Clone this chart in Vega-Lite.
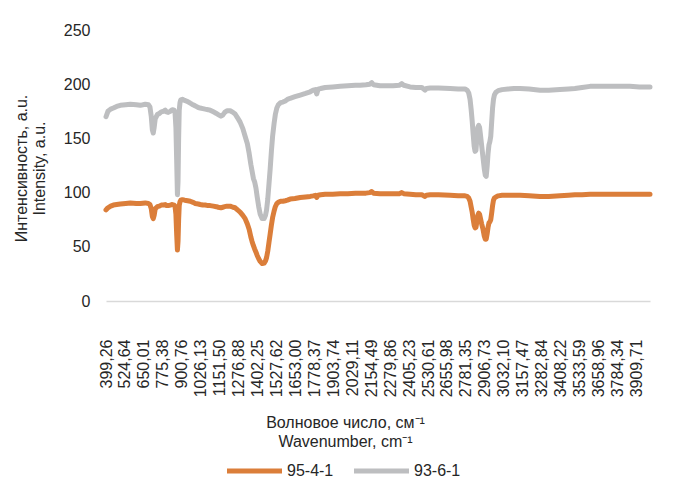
{
  "$schema": "https://vega.github.io/schema/vega-lite/v6.json",
  "width": 544,
  "height": 271,
  "autosize": "none",
  "padding": {"left": 106, "top": 30, "right": 24, "bottom": 191},
  "background": "white",
  "config": {"font": "Liberation Sans", "view": {"stroke": null}},
  "data": {
    "values": [
      {"wavenumber": 399.3, "series": "93-6-1", "intensity": 170},
      {"wavenumber": 412, "series": "93-6-1", "intensity": 175},
      {"wavenumber": 430, "series": "93-6-1", "intensity": 177},
      {"wavenumber": 448, "series": "93-6-1", "intensity": 178},
      {"wavenumber": 470, "series": "93-6-1", "intensity": 179.5},
      {"wavenumber": 494, "series": "93-6-1", "intensity": 180.5},
      {"wavenumber": 530, "series": "93-6-1", "intensity": 181},
      {"wavenumber": 560, "series": "93-6-1", "intensity": 181.5},
      {"wavenumber": 600, "series": "93-6-1", "intensity": 181},
      {"wavenumber": 626, "series": "93-6-1", "intensity": 180.5},
      {"wavenumber": 659, "series": "93-6-1", "intensity": 181.5},
      {"wavenumber": 680, "series": "93-6-1", "intensity": 181},
      {"wavenumber": 690, "series": "93-6-1", "intensity": 179},
      {"wavenumber": 699, "series": "93-6-1", "intensity": 170},
      {"wavenumber": 706, "series": "93-6-1", "intensity": 158},
      {"wavenumber": 712, "series": "93-6-1", "intensity": 155},
      {"wavenumber": 718, "series": "93-6-1", "intensity": 160},
      {"wavenumber": 725, "series": "93-6-1", "intensity": 168},
      {"wavenumber": 739, "series": "93-6-1", "intensity": 172},
      {"wavenumber": 752, "series": "93-6-1", "intensity": 173},
      {"wavenumber": 765, "series": "93-6-1", "intensity": 174.5},
      {"wavenumber": 780, "series": "93-6-1", "intensity": 175},
      {"wavenumber": 791, "series": "93-6-1", "intensity": 176},
      {"wavenumber": 800, "series": "93-6-1", "intensity": 174.5},
      {"wavenumber": 811, "series": "93-6-1", "intensity": 174},
      {"wavenumber": 825, "series": "93-6-1", "intensity": 175},
      {"wavenumber": 838, "series": "93-6-1", "intensity": 176.5},
      {"wavenumber": 850, "series": "93-6-1", "intensity": 176},
      {"wavenumber": 856, "series": "93-6-1", "intensity": 174},
      {"wavenumber": 862, "series": "93-6-1", "intensity": 160},
      {"wavenumber": 867, "series": "93-6-1", "intensity": 130},
      {"wavenumber": 872, "series": "93-6-1", "intensity": 98},
      {"wavenumber": 876, "series": "93-6-1", "intensity": 110},
      {"wavenumber": 880, "series": "93-6-1", "intensity": 150},
      {"wavenumber": 884, "series": "93-6-1", "intensity": 176},
      {"wavenumber": 889, "series": "93-6-1", "intensity": 183},
      {"wavenumber": 894, "series": "93-6-1", "intensity": 185.5},
      {"wavenumber": 905, "series": "93-6-1", "intensity": 186},
      {"wavenumber": 920, "series": "93-6-1", "intensity": 185},
      {"wavenumber": 940, "series": "93-6-1", "intensity": 184},
      {"wavenumber": 957, "series": "93-6-1", "intensity": 182.5},
      {"wavenumber": 975, "series": "93-6-1", "intensity": 181},
      {"wavenumber": 990, "series": "93-6-1", "intensity": 180},
      {"wavenumber": 1010, "series": "93-6-1", "intensity": 178.5},
      {"wavenumber": 1023, "series": "93-6-1", "intensity": 178},
      {"wavenumber": 1040, "series": "93-6-1", "intensity": 177.5},
      {"wavenumber": 1056, "series": "93-6-1", "intensity": 177},
      {"wavenumber": 1075, "series": "93-6-1", "intensity": 176.5},
      {"wavenumber": 1089, "series": "93-6-1", "intensity": 176},
      {"wavenumber": 1110, "series": "93-6-1", "intensity": 174.5},
      {"wavenumber": 1130, "series": "93-6-1", "intensity": 173},
      {"wavenumber": 1142, "series": "93-6-1", "intensity": 172},
      {"wavenumber": 1160, "series": "93-6-1", "intensity": 170.5},
      {"wavenumber": 1172, "series": "93-6-1", "intensity": 171.5},
      {"wavenumber": 1185, "series": "93-6-1", "intensity": 174},
      {"wavenumber": 1200, "series": "93-6-1", "intensity": 175.5},
      {"wavenumber": 1221, "series": "93-6-1", "intensity": 175.5},
      {"wavenumber": 1240, "series": "93-6-1", "intensity": 174},
      {"wavenumber": 1254, "series": "93-6-1", "intensity": 172.5},
      {"wavenumber": 1270, "series": "93-6-1", "intensity": 169},
      {"wavenumber": 1287, "series": "93-6-1", "intensity": 165},
      {"wavenumber": 1305, "series": "93-6-1", "intensity": 159},
      {"wavenumber": 1320, "series": "93-6-1", "intensity": 152},
      {"wavenumber": 1335, "series": "93-6-1", "intensity": 145},
      {"wavenumber": 1347, "series": "93-6-1", "intensity": 136},
      {"wavenumber": 1358, "series": "93-6-1", "intensity": 126},
      {"wavenumber": 1366, "series": "93-6-1", "intensity": 120},
      {"wavenumber": 1375, "series": "93-6-1", "intensity": 113},
      {"wavenumber": 1383, "series": "93-6-1", "intensity": 110},
      {"wavenumber": 1392, "series": "93-6-1", "intensity": 104},
      {"wavenumber": 1400, "series": "93-6-1", "intensity": 96},
      {"wavenumber": 1410, "series": "93-6-1", "intensity": 87},
      {"wavenumber": 1420, "series": "93-6-1", "intensity": 80},
      {"wavenumber": 1433, "series": "93-6-1", "intensity": 76},
      {"wavenumber": 1446, "series": "93-6-1", "intensity": 76},
      {"wavenumber": 1455, "series": "93-6-1", "intensity": 79},
      {"wavenumber": 1462, "series": "93-6-1", "intensity": 84},
      {"wavenumber": 1470, "series": "93-6-1", "intensity": 94},
      {"wavenumber": 1478, "series": "93-6-1", "intensity": 108},
      {"wavenumber": 1486, "series": "93-6-1", "intensity": 122},
      {"wavenumber": 1494, "series": "93-6-1", "intensity": 138},
      {"wavenumber": 1502, "series": "93-6-1", "intensity": 152},
      {"wavenumber": 1512, "series": "93-6-1", "intensity": 164},
      {"wavenumber": 1520, "series": "93-6-1", "intensity": 172},
      {"wavenumber": 1530, "series": "93-6-1", "intensity": 178},
      {"wavenumber": 1540, "series": "93-6-1", "intensity": 181},
      {"wavenumber": 1555, "series": "93-6-1", "intensity": 183},
      {"wavenumber": 1570, "series": "93-6-1", "intensity": 183.5},
      {"wavenumber": 1586, "series": "93-6-1", "intensity": 184.5},
      {"wavenumber": 1600, "series": "93-6-1", "intensity": 186},
      {"wavenumber": 1618, "series": "93-6-1", "intensity": 187},
      {"wavenumber": 1650, "series": "93-6-1", "intensity": 188.5},
      {"wavenumber": 1685, "series": "93-6-1", "intensity": 190},
      {"wavenumber": 1720, "series": "93-6-1", "intensity": 191.5},
      {"wavenumber": 1751, "series": "93-6-1", "intensity": 193},
      {"wavenumber": 1770, "series": "93-6-1", "intensity": 194.5},
      {"wavenumber": 1785, "series": "93-6-1", "intensity": 195},
      {"wavenumber": 1794, "series": "93-6-1", "intensity": 191},
      {"wavenumber": 1803, "series": "93-6-1", "intensity": 195.5},
      {"wavenumber": 1820, "series": "93-6-1", "intensity": 196},
      {"wavenumber": 1850, "series": "93-6-1", "intensity": 197},
      {"wavenumber": 1900, "series": "93-6-1", "intensity": 197.5},
      {"wavenumber": 1949, "series": "93-6-1", "intensity": 198},
      {"wavenumber": 2000, "series": "93-6-1", "intensity": 198.5},
      {"wavenumber": 2050, "series": "93-6-1", "intensity": 199},
      {"wavenumber": 2081, "series": "93-6-1", "intensity": 199},
      {"wavenumber": 2120, "series": "93-6-1", "intensity": 199.5},
      {"wavenumber": 2145, "series": "93-6-1", "intensity": 200},
      {"wavenumber": 2158, "series": "93-6-1", "intensity": 201.5},
      {"wavenumber": 2170, "series": "93-6-1", "intensity": 199.5},
      {"wavenumber": 2213, "series": "93-6-1", "intensity": 198.5},
      {"wavenumber": 2260, "series": "93-6-1", "intensity": 198.5},
      {"wavenumber": 2300, "series": "93-6-1", "intensity": 198.5},
      {"wavenumber": 2340, "series": "93-6-1", "intensity": 199},
      {"wavenumber": 2357, "series": "93-6-1", "intensity": 200.5},
      {"wavenumber": 2370, "series": "93-6-1", "intensity": 199},
      {"wavenumber": 2412, "series": "93-6-1", "intensity": 197.5},
      {"wavenumber": 2450, "series": "93-6-1", "intensity": 197},
      {"wavenumber": 2490, "series": "93-6-1", "intensity": 197},
      {"wavenumber": 2503, "series": "93-6-1", "intensity": 195.5},
      {"wavenumber": 2511, "series": "93-6-1", "intensity": 194.5},
      {"wavenumber": 2520, "series": "93-6-1", "intensity": 196},
      {"wavenumber": 2545, "series": "93-6-1", "intensity": 196.5},
      {"wavenumber": 2600, "series": "93-6-1", "intensity": 196.5},
      {"wavenumber": 2677, "series": "93-6-1", "intensity": 196},
      {"wavenumber": 2730, "series": "93-6-1", "intensity": 195.5},
      {"wavenumber": 2776, "series": "93-6-1", "intensity": 195.5},
      {"wavenumber": 2790, "series": "93-6-1", "intensity": 194.5},
      {"wavenumber": 2800, "series": "93-6-1", "intensity": 192},
      {"wavenumber": 2809, "series": "93-6-1", "intensity": 186},
      {"wavenumber": 2816, "series": "93-6-1", "intensity": 177},
      {"wavenumber": 2823, "series": "93-6-1", "intensity": 166},
      {"wavenumber": 2830, "series": "93-6-1", "intensity": 153},
      {"wavenumber": 2836, "series": "93-6-1", "intensity": 143},
      {"wavenumber": 2842, "series": "93-6-1", "intensity": 138},
      {"wavenumber": 2848, "series": "93-6-1", "intensity": 139},
      {"wavenumber": 2854, "series": "93-6-1", "intensity": 150},
      {"wavenumber": 2860, "series": "93-6-1", "intensity": 160},
      {"wavenumber": 2866, "series": "93-6-1", "intensity": 162},
      {"wavenumber": 2872, "series": "93-6-1", "intensity": 160},
      {"wavenumber": 2878, "series": "93-6-1", "intensity": 153},
      {"wavenumber": 2886, "series": "93-6-1", "intensity": 143},
      {"wavenumber": 2895, "series": "93-6-1", "intensity": 132},
      {"wavenumber": 2903, "series": "93-6-1", "intensity": 122},
      {"wavenumber": 2910, "series": "93-6-1", "intensity": 116},
      {"wavenumber": 2916, "series": "93-6-1", "intensity": 115},
      {"wavenumber": 2922, "series": "93-6-1", "intensity": 124},
      {"wavenumber": 2928, "series": "93-6-1", "intensity": 136},
      {"wavenumber": 2934, "series": "93-6-1", "intensity": 144},
      {"wavenumber": 2940, "series": "93-6-1", "intensity": 147},
      {"wavenumber": 2946, "series": "93-6-1", "intensity": 152},
      {"wavenumber": 2952, "series": "93-6-1", "intensity": 165},
      {"wavenumber": 2958, "series": "93-6-1", "intensity": 178},
      {"wavenumber": 2964, "series": "93-6-1", "intensity": 186},
      {"wavenumber": 2970, "series": "93-6-1", "intensity": 190},
      {"wavenumber": 2980, "series": "93-6-1", "intensity": 192.5},
      {"wavenumber": 2995, "series": "93-6-1", "intensity": 194},
      {"wavenumber": 3021, "series": "93-6-1", "intensity": 195},
      {"wavenumber": 3060, "series": "93-6-1", "intensity": 195.5},
      {"wavenumber": 3100, "series": "93-6-1", "intensity": 196},
      {"wavenumber": 3140, "series": "93-6-1", "intensity": 196},
      {"wavenumber": 3200, "series": "93-6-1", "intensity": 195.5},
      {"wavenumber": 3272, "series": "93-6-1", "intensity": 194.5},
      {"wavenumber": 3330, "series": "93-6-1", "intensity": 194.5},
      {"wavenumber": 3404, "series": "93-6-1", "intensity": 195},
      {"wavenumber": 3460, "series": "93-6-1", "intensity": 195.5},
      {"wavenumber": 3503, "series": "93-6-1", "intensity": 196},
      {"wavenumber": 3550, "series": "93-6-1", "intensity": 197},
      {"wavenumber": 3603, "series": "93-6-1", "intensity": 198},
      {"wavenumber": 3650, "series": "93-6-1", "intensity": 198},
      {"wavenumber": 3735, "series": "93-6-1", "intensity": 198},
      {"wavenumber": 3800, "series": "93-6-1", "intensity": 198},
      {"wavenumber": 3867, "series": "93-6-1", "intensity": 198},
      {"wavenumber": 3930, "series": "93-6-1", "intensity": 197.5},
      {"wavenumber": 4000, "series": "93-6-1", "intensity": 197.5},
      {"wavenumber": 399.3, "series": "95-4-1", "intensity": 84},
      {"wavenumber": 412, "series": "95-4-1", "intensity": 86},
      {"wavenumber": 430, "series": "95-4-1", "intensity": 87.5},
      {"wavenumber": 448, "series": "95-4-1", "intensity": 88.5},
      {"wavenumber": 470, "series": "95-4-1", "intensity": 89},
      {"wavenumber": 494, "series": "95-4-1", "intensity": 89.5},
      {"wavenumber": 530, "series": "95-4-1", "intensity": 90},
      {"wavenumber": 560, "series": "95-4-1", "intensity": 90.5},
      {"wavenumber": 600, "series": "95-4-1", "intensity": 90},
      {"wavenumber": 626, "series": "95-4-1", "intensity": 90},
      {"wavenumber": 659, "series": "95-4-1", "intensity": 90.5},
      {"wavenumber": 680, "series": "95-4-1", "intensity": 90},
      {"wavenumber": 690, "series": "95-4-1", "intensity": 89},
      {"wavenumber": 699, "series": "95-4-1", "intensity": 85},
      {"wavenumber": 706, "series": "95-4-1", "intensity": 78},
      {"wavenumber": 712, "series": "95-4-1", "intensity": 76},
      {"wavenumber": 718, "series": "95-4-1", "intensity": 79},
      {"wavenumber": 725, "series": "95-4-1", "intensity": 85},
      {"wavenumber": 739, "series": "95-4-1", "intensity": 87},
      {"wavenumber": 752, "series": "95-4-1", "intensity": 87.5},
      {"wavenumber": 765, "series": "95-4-1", "intensity": 88.5},
      {"wavenumber": 780, "series": "95-4-1", "intensity": 88.5},
      {"wavenumber": 791, "series": "95-4-1", "intensity": 89},
      {"wavenumber": 800, "series": "95-4-1", "intensity": 88},
      {"wavenumber": 811, "series": "95-4-1", "intensity": 88},
      {"wavenumber": 825, "series": "95-4-1", "intensity": 88.5},
      {"wavenumber": 838, "series": "95-4-1", "intensity": 89},
      {"wavenumber": 850, "series": "95-4-1", "intensity": 88.5},
      {"wavenumber": 856, "series": "95-4-1", "intensity": 87.5},
      {"wavenumber": 862, "series": "95-4-1", "intensity": 80},
      {"wavenumber": 867, "series": "95-4-1", "intensity": 62},
      {"wavenumber": 872, "series": "95-4-1", "intensity": 47},
      {"wavenumber": 876, "series": "95-4-1", "intensity": 55},
      {"wavenumber": 880, "series": "95-4-1", "intensity": 75},
      {"wavenumber": 884, "series": "95-4-1", "intensity": 88},
      {"wavenumber": 889, "series": "95-4-1", "intensity": 91.5},
      {"wavenumber": 894, "series": "95-4-1", "intensity": 93},
      {"wavenumber": 905, "series": "95-4-1", "intensity": 93.5},
      {"wavenumber": 920, "series": "95-4-1", "intensity": 93},
      {"wavenumber": 940, "series": "95-4-1", "intensity": 92.5},
      {"wavenumber": 957, "series": "95-4-1", "intensity": 92},
      {"wavenumber": 975, "series": "95-4-1", "intensity": 91},
      {"wavenumber": 990, "series": "95-4-1", "intensity": 90},
      {"wavenumber": 1010, "series": "95-4-1", "intensity": 89.5},
      {"wavenumber": 1023, "series": "95-4-1", "intensity": 89},
      {"wavenumber": 1040, "series": "95-4-1", "intensity": 88.5},
      {"wavenumber": 1056, "series": "95-4-1", "intensity": 88.5},
      {"wavenumber": 1075, "series": "95-4-1", "intensity": 88},
      {"wavenumber": 1089, "series": "95-4-1", "intensity": 88},
      {"wavenumber": 1110, "series": "95-4-1", "intensity": 87.5},
      {"wavenumber": 1130, "series": "95-4-1", "intensity": 87},
      {"wavenumber": 1142, "series": "95-4-1", "intensity": 86.5},
      {"wavenumber": 1160, "series": "95-4-1", "intensity": 86},
      {"wavenumber": 1172, "series": "95-4-1", "intensity": 86.5},
      {"wavenumber": 1185, "series": "95-4-1", "intensity": 87},
      {"wavenumber": 1200, "series": "95-4-1", "intensity": 87.5},
      {"wavenumber": 1221, "series": "95-4-1", "intensity": 87.5},
      {"wavenumber": 1240, "series": "95-4-1", "intensity": 86.5},
      {"wavenumber": 1254, "series": "95-4-1", "intensity": 86},
      {"wavenumber": 1270, "series": "95-4-1", "intensity": 84},
      {"wavenumber": 1287, "series": "95-4-1", "intensity": 82},
      {"wavenumber": 1305, "series": "95-4-1", "intensity": 79},
      {"wavenumber": 1320, "series": "95-4-1", "intensity": 76},
      {"wavenumber": 1335, "series": "95-4-1", "intensity": 71},
      {"wavenumber": 1347, "series": "95-4-1", "intensity": 66},
      {"wavenumber": 1358, "series": "95-4-1", "intensity": 59},
      {"wavenumber": 1366, "series": "95-4-1", "intensity": 55},
      {"wavenumber": 1375, "series": "95-4-1", "intensity": 51},
      {"wavenumber": 1383, "series": "95-4-1", "intensity": 48},
      {"wavenumber": 1392, "series": "95-4-1", "intensity": 45},
      {"wavenumber": 1400, "series": "95-4-1", "intensity": 42},
      {"wavenumber": 1410, "series": "95-4-1", "intensity": 39},
      {"wavenumber": 1420, "series": "95-4-1", "intensity": 36.5},
      {"wavenumber": 1433, "series": "95-4-1", "intensity": 34.5},
      {"wavenumber": 1446, "series": "95-4-1", "intensity": 35},
      {"wavenumber": 1455, "series": "95-4-1", "intensity": 37},
      {"wavenumber": 1462, "series": "95-4-1", "intensity": 40},
      {"wavenumber": 1470, "series": "95-4-1", "intensity": 46},
      {"wavenumber": 1478, "series": "95-4-1", "intensity": 54},
      {"wavenumber": 1486, "series": "95-4-1", "intensity": 62},
      {"wavenumber": 1494, "series": "95-4-1", "intensity": 70},
      {"wavenumber": 1502, "series": "95-4-1", "intensity": 77},
      {"wavenumber": 1512, "series": "95-4-1", "intensity": 83},
      {"wavenumber": 1520, "series": "95-4-1", "intensity": 87},
      {"wavenumber": 1530, "series": "95-4-1", "intensity": 90},
      {"wavenumber": 1540, "series": "95-4-1", "intensity": 91},
      {"wavenumber": 1555, "series": "95-4-1", "intensity": 92},
      {"wavenumber": 1570, "series": "95-4-1", "intensity": 92},
      {"wavenumber": 1586, "series": "95-4-1", "intensity": 92.5},
      {"wavenumber": 1600, "series": "95-4-1", "intensity": 93},
      {"wavenumber": 1618, "series": "95-4-1", "intensity": 94},
      {"wavenumber": 1650, "series": "95-4-1", "intensity": 94.5},
      {"wavenumber": 1685, "series": "95-4-1", "intensity": 95.5},
      {"wavenumber": 1720, "series": "95-4-1", "intensity": 96},
      {"wavenumber": 1751, "series": "95-4-1", "intensity": 96.5},
      {"wavenumber": 1770, "series": "95-4-1", "intensity": 97},
      {"wavenumber": 1785, "series": "95-4-1", "intensity": 97.5},
      {"wavenumber": 1794, "series": "95-4-1", "intensity": 95.5},
      {"wavenumber": 1803, "series": "95-4-1", "intensity": 97.5},
      {"wavenumber": 1820, "series": "95-4-1", "intensity": 98},
      {"wavenumber": 1850, "series": "95-4-1", "intensity": 98.5},
      {"wavenumber": 1900, "series": "95-4-1", "intensity": 98.5},
      {"wavenumber": 1949, "series": "95-4-1", "intensity": 99},
      {"wavenumber": 2000, "series": "95-4-1", "intensity": 99},
      {"wavenumber": 2050, "series": "95-4-1", "intensity": 99.5},
      {"wavenumber": 2081, "series": "95-4-1", "intensity": 99.5},
      {"wavenumber": 2120, "series": "95-4-1", "intensity": 99.5},
      {"wavenumber": 2145, "series": "95-4-1", "intensity": 100},
      {"wavenumber": 2158, "series": "95-4-1", "intensity": 101},
      {"wavenumber": 2170, "series": "95-4-1", "intensity": 99.5},
      {"wavenumber": 2213, "series": "95-4-1", "intensity": 99},
      {"wavenumber": 2260, "series": "95-4-1", "intensity": 99},
      {"wavenumber": 2300, "series": "95-4-1", "intensity": 99},
      {"wavenumber": 2340, "series": "95-4-1", "intensity": 99},
      {"wavenumber": 2357, "series": "95-4-1", "intensity": 100},
      {"wavenumber": 2370, "series": "95-4-1", "intensity": 99},
      {"wavenumber": 2412, "series": "95-4-1", "intensity": 98.5},
      {"wavenumber": 2450, "series": "95-4-1", "intensity": 98},
      {"wavenumber": 2490, "series": "95-4-1", "intensity": 98},
      {"wavenumber": 2503, "series": "95-4-1", "intensity": 97},
      {"wavenumber": 2511, "series": "95-4-1", "intensity": 96.5},
      {"wavenumber": 2520, "series": "95-4-1", "intensity": 97.5},
      {"wavenumber": 2545, "series": "95-4-1", "intensity": 98},
      {"wavenumber": 2600, "series": "95-4-1", "intensity": 98},
      {"wavenumber": 2677, "series": "95-4-1", "intensity": 97.5},
      {"wavenumber": 2730, "series": "95-4-1", "intensity": 97},
      {"wavenumber": 2776, "series": "95-4-1", "intensity": 97},
      {"wavenumber": 2790, "series": "95-4-1", "intensity": 96.5},
      {"wavenumber": 2800, "series": "95-4-1", "intensity": 95},
      {"wavenumber": 2809, "series": "95-4-1", "intensity": 92},
      {"wavenumber": 2816, "series": "95-4-1", "intensity": 87},
      {"wavenumber": 2823, "series": "95-4-1", "intensity": 82},
      {"wavenumber": 2830, "series": "95-4-1", "intensity": 75},
      {"wavenumber": 2836, "series": "95-4-1", "intensity": 70},
      {"wavenumber": 2842, "series": "95-4-1", "intensity": 67.5},
      {"wavenumber": 2848, "series": "95-4-1", "intensity": 68},
      {"wavenumber": 2854, "series": "95-4-1", "intensity": 73},
      {"wavenumber": 2860, "series": "95-4-1", "intensity": 79},
      {"wavenumber": 2866, "series": "95-4-1", "intensity": 81},
      {"wavenumber": 2872, "series": "95-4-1", "intensity": 80},
      {"wavenumber": 2878, "series": "95-4-1", "intensity": 76},
      {"wavenumber": 2886, "series": "95-4-1", "intensity": 71},
      {"wavenumber": 2895, "series": "95-4-1", "intensity": 66},
      {"wavenumber": 2903, "series": "95-4-1", "intensity": 60},
      {"wavenumber": 2910, "series": "95-4-1", "intensity": 57},
      {"wavenumber": 2916, "series": "95-4-1", "intensity": 57},
      {"wavenumber": 2922, "series": "95-4-1", "intensity": 62},
      {"wavenumber": 2928, "series": "95-4-1", "intensity": 68},
      {"wavenumber": 2934, "series": "95-4-1", "intensity": 72},
      {"wavenumber": 2940, "series": "95-4-1", "intensity": 73},
      {"wavenumber": 2946, "series": "95-4-1", "intensity": 75},
      {"wavenumber": 2952, "series": "95-4-1", "intensity": 81},
      {"wavenumber": 2958, "series": "95-4-1", "intensity": 88},
      {"wavenumber": 2964, "series": "95-4-1", "intensity": 93},
      {"wavenumber": 2970, "series": "95-4-1", "intensity": 95},
      {"wavenumber": 2980, "series": "95-4-1", "intensity": 96},
      {"wavenumber": 2995, "series": "95-4-1", "intensity": 97},
      {"wavenumber": 3021, "series": "95-4-1", "intensity": 97.5},
      {"wavenumber": 3060, "series": "95-4-1", "intensity": 97.5},
      {"wavenumber": 3100, "series": "95-4-1", "intensity": 97.5},
      {"wavenumber": 3140, "series": "95-4-1", "intensity": 97.5},
      {"wavenumber": 3200, "series": "95-4-1", "intensity": 97},
      {"wavenumber": 3272, "series": "95-4-1", "intensity": 96.5},
      {"wavenumber": 3330, "series": "95-4-1", "intensity": 96.5},
      {"wavenumber": 3404, "series": "95-4-1", "intensity": 97},
      {"wavenumber": 3460, "series": "95-4-1", "intensity": 97.5},
      {"wavenumber": 3503, "series": "95-4-1", "intensity": 98},
      {"wavenumber": 3550, "series": "95-4-1", "intensity": 98},
      {"wavenumber": 3603, "series": "95-4-1", "intensity": 98.5},
      {"wavenumber": 3650, "series": "95-4-1", "intensity": 98.5},
      {"wavenumber": 3735, "series": "95-4-1", "intensity": 98.5},
      {"wavenumber": 3800, "series": "95-4-1", "intensity": 98.5},
      {"wavenumber": 3867, "series": "95-4-1", "intensity": 98.5},
      {"wavenumber": 3930, "series": "95-4-1", "intensity": 98.5},
      {"wavenumber": 4000, "series": "95-4-1", "intensity": 98.5}
    ]
  },
  "mark": {"type": "line", "strokeWidth": 5, "strokeJoin": "round", "strokeCap": "round"},
  "encoding": {
    "x": {
      "field": "wavenumber",
      "type": "quantitative",
      "scale": {"domain": [399.26, 4000], "nice": false, "zero": false},
      "axis": {
        "values": [399.26, 524.64, 650.01, 775.38, 900.76, 1026.13, 1151.5, 1276.88, 1402.25, 1527.62, 1653.0, 1778.37, 1903.74, 2029.11, 2154.49, 2279.86, 2405.23, 2530.61, 2655.98, 2781.35, 2906.73, 3032.1, 3157.47, 3282.84, 3408.22, 3533.59, 3658.96, 3784.34, 3909.71],
        "labelExpr": "replace(format(datum.value, '.2f'), '.', ',')",
        "labelAngle": -90,
        "labelAlign": "right",
        "labelBaseline": "middle",
        "labelPadding": 38,
        "labelFontSize": 16,
        "labelColor": "#262626",
        "labelOverlap": false,
        "labelFlush": false,
        "ticks": false,
        "grid": false,
        "domainColor": "#D9D9D9",
        "domainWidth": 1.5,
        "title": ["Волновое число, см⁻¹", "Wavenumber, cm⁻¹"],
        "titleFontSize": 16,
        "titleFontWeight": "normal",
        "titleColor": "#262626",
        "titleLineHeight": 19,
        "titleAlign": "center",
        "titleBaseline": "middle",
        "titleAngle": 0,
        "titleX": 239,
        "titleY": 121
      }
    },
    "y": {
      "field": "intensity",
      "type": "quantitative",
      "scale": {"domain": [0, 250], "nice": false},
      "axis": {
        "values": [0, 50, 100, 150, 200, 250],
        "labelFontSize": 16,
        "labelColor": "#262626",
        "labelPadding": 16,
        "ticks": false,
        "domain": false,
        "grid": false,
        "title": ["Интенсивность, a.u.", "Intensity, a.u."],
        "titleFontSize": 16,
        "titleFontWeight": "normal",
        "titleColor": "#262626",
        "titleLineHeight": 18,
        "titleAlign": "center",
        "titleBaseline": "middle",
        "titleAngle": -90,
        "titleX": -85,
        "titleY": 138
      }
    },
    "color": {
      "field": "series",
      "type": "nominal",
      "scale": {"domain": ["95-4-1", "93-6-1"], "range": ["#DB7E3A", "#BDBEC0"]},
      "legend": {
        "orient": "none",
        "legendX": 118.5,
        "legendY": 411,
        "direction": "horizontal",
        "title": null,
        "symbolType": "stroke",
        "symbolSize": 3025,
        "symbolStrokeWidth": 5,
        "labelFontSize": 16,
        "labelColor": "#262626",
        "labelOffset": 2.5,
        "columnPadding": 10,
        "padding": 0
      }
    }
  }
}
